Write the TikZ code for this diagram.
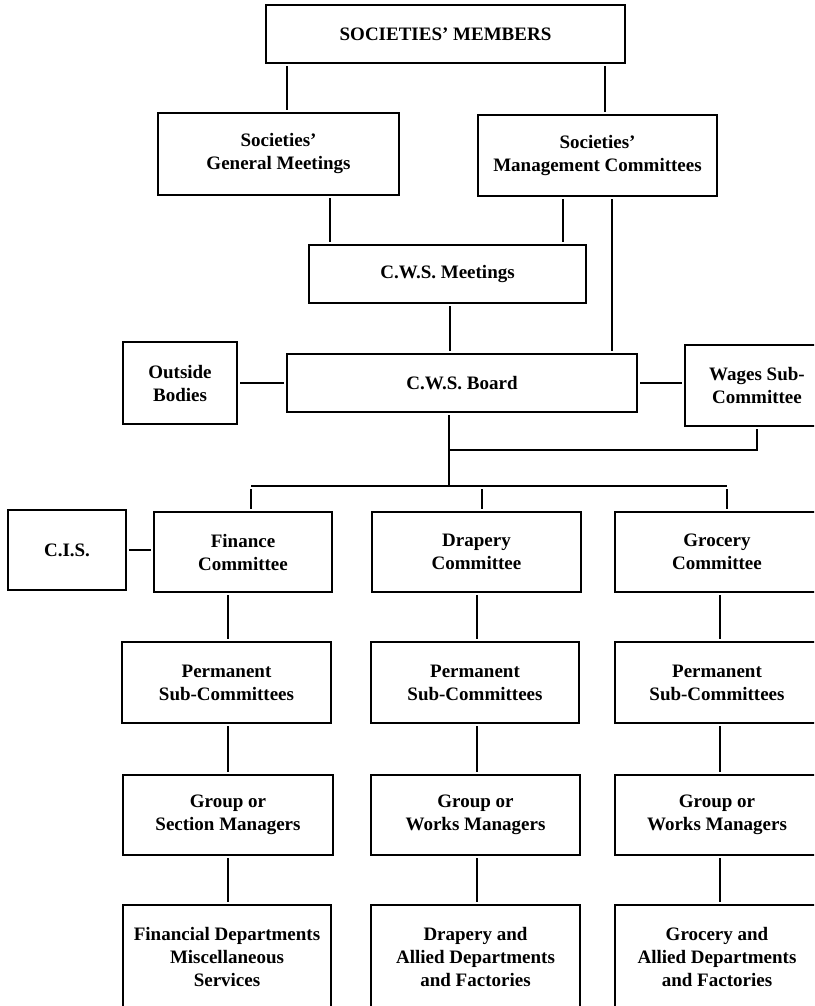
\documentclass[tikz,border=0pt]{standalone}
\usepackage{fontspec}
\setmainfont{Liberation Serif}
\begin{document}
\begin{tikzpicture}[x=1pt,y=-1pt,
  box/.style={draw, line width=2.6pt, inner sep=0pt, outer sep=0pt, align=center,
    font=\fontsize{19}{23}\selectfont\bfseries},
  link/.style={line width=2pt, shorten <=3pt, shorten >=3pt},
  tie/.style={line width=2pt}
]
\useasboundingbox (0,0) rectangle (814,1006);
\clip (0,0) rectangle (814,1006);

% top levels
\node[box, minimum width=359pt, minimum height=58pt] (sm) at (445.5,34) {SOCIETIES’ MEMBERS};
\node[box, minimum width=241pt, minimum height=82pt] (sgm) at (278.5,154) {Societies’\\General Meetings};
\node[box, minimum width=239pt, minimum height=81pt] (smc) at (597.5,155.5) {Societies’\\Management Committees};
\node[box, minimum width=277pt, minimum height=58pt] (cwsm) at (447.5,274) {C.W.S. Meetings};
\node[box, minimum width=350pt, minimum height=58pt] (board) at (462,383) {C.W.S. Board};
\node[box, minimum width=114pt, minimum height=82pt] (outside) at (180,383) {Outside\\Bodies};
\node[box, minimum width=144pt, minimum height=81pt] (wages) at (757,385.5) {Wages Sub-\\Committee};

% committees row
\node[box, minimum width=118pt, minimum height=80pt] (cis) at (67,550) {C.I.S.};
\node[box, minimum width=178pt, minimum height=80pt] (fin) at (243,552) {Finance\\Committee};
\node[box, minimum width=209pt, minimum height=80pt] (drap) at (476.5,552) {Drapery\\Committee};
\node[box, minimum width=204pt, minimum height=80pt] (groc) at (717,552) {Grocery\\Committee};

% permanent sub-committees
\node[box, minimum width=209pt, minimum height=81pt] (finps) at (226.5,682.5) {Permanent\\Sub-Committees};
\node[box, minimum width=208pt, minimum height=81pt] (drapps) at (475,682.5) {Permanent\\Sub-Committees};
\node[box, minimum width=204pt, minimum height=81pt] (grocps) at (717,682.5) {Permanent\\Sub-Committees};

% group managers
\node[box, minimum width=210pt, minimum height=80pt] (fingm) at (228,815) {Group or\\Section Managers};
\node[box, minimum width=209pt, minimum height=80pt] (drapgm) at (475.5,815) {Group or\\Works Managers};
\node[box, minimum width=204pt, minimum height=80pt] (grocgm) at (717,815) {Group or\\Works Managers};

% departments
\node[box, minimum width=208pt, minimum height=104pt] (findep) at (227,957) {Financial Departments\\Miscellaneous\\Services};
\node[box, minimum width=209pt, minimum height=104pt] (drapdep) at (475.5,957) {Drapery and\\Allied Departments\\and Factories};
\node[box, minimum width=204pt, minimum height=104pt] (grocdep) at (717,957) {Grocery and\\Allied Departments\\and Factories};

% x positions of vertical connectors
\coordinate (xa) at (287,0);
\coordinate (xb) at (605,0);
\coordinate (xc) at (330,0);
\coordinate (xd) at (563,0);
\coordinate (xe) at (612,0);
\coordinate (xf) at (450,0);
\coordinate (xg) at (449,0);
\coordinate (xw) at (757,0);
\coordinate (xF) at (251,0);
\coordinate (xD) at (482,0);
\coordinate (xG) at (727,0);
\coordinate (c1) at (228,0);
\coordinate (c2) at (477,0);
\coordinate (c3) at (720,0);
\coordinate (jw) at (449,450);
\coordinate (br) at (449,486);
\coordinate (yb) at (0,486);

\draw[link] (xa |- sm.south) -- (xa |- sgm.north);
\draw[link] (xb |- sm.south) -- (xb |- smc.north);
\draw[link] (xc |- sgm.south) -- (xc |- cwsm.north);
\draw[link] (xd |- smc.south) -- (xd |- cwsm.north);
\draw[link] (xe |- smc.south) -- (xe |- board.north);
\draw[link] (xf |- cwsm.south) -- (xf |- board.north);
\draw[link] (outside.east) -- (board.west);
\draw[link] (board.east) -- (board.east -| wages.west);
\draw[link, shorten >=0pt] (xg |- board.south) -- (br);
\draw[link, shorten >=0pt] (xw |- wages.south) |- (jw);
\draw[link] (xF |- yb) -- (xF |- fin.north);
\draw[link] (xD |- yb) -- (xD |- drap.north);
\draw[link] (xG |- yb) -- (xG |- groc.north);
\draw[tie] (xF |- yb) -- (xG |- yb);
\draw[link] (cis.east) -- (cis.east -| fin.west);

\draw[link] (c1 |- fin.south) -- (c1 |- finps.north);
\draw[link] (c2 |- drap.south) -- (c2 |- drapps.north);
\draw[link] (c3 |- groc.south) -- (c3 |- grocps.north);
\draw[link] (c1 |- finps.south) -- (c1 |- fingm.north);
\draw[link] (c2 |- drapps.south) -- (c2 |- drapgm.north);
\draw[link] (c3 |- grocps.south) -- (c3 |- grocgm.north);
\draw[link] (c1 |- fingm.south) -- (c1 |- findep.north);
\draw[link] (c2 |- drapgm.south) -- (c2 |- drapdep.north);
\draw[link] (c3 |- grocgm.south) -- (c3 |- grocdep.north);
\end{tikzpicture}
\end{document}
